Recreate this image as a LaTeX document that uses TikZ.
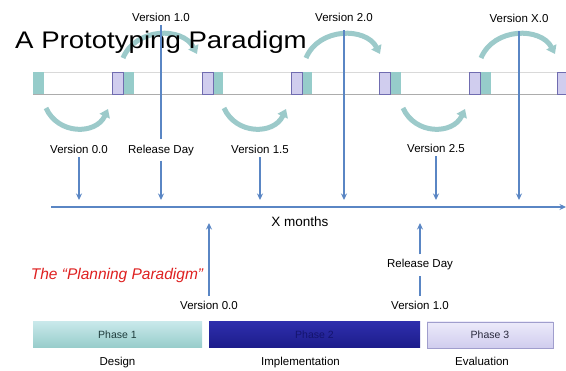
\documentclass[tikz,border=0pt]{standalone}
\usepackage{fontspec}
\usepackage{graphicx}
\setmainfont{Liberation Sans}
\usetikzlibrary{positioning}
\usetikzlibrary{arrows.meta}
\definecolor{lineblue}{RGB}{90,134,196}
\definecolor{tealA}{RGB}{200,232,234}
\definecolor{tealB}{RGB}{150,204,202}
\definecolor{lavA}{RGB}{236,234,250}
\definecolor{lavB}{RGB}{208,205,238}
\definecolor{lavedge}{RGB}{112,108,176}
\definecolor{cyc}{RGB}{156,202,202}
\definecolor{navyA}{RGB}{46,46,172}
\definecolor{navyB}{RGB}{28,28,138}
\definecolor{plred}{RGB}{222,32,32}
\tikzset{
  lbl/.style={font=\fontsize{11.5}{13}\selectfont, inner sep=1pt},
  vline/.style={draw=lineblue, line width=1.1pt},
  varrow/.style={vline, line width=1.4pt, -{Stealth[length=6.5pt,width=6pt]}},
  cycarrow/.style={draw=cyc, line width=5pt, -{Triangle[length=8pt,width=11pt]}},
  phase/.style={minimum height=26pt, inner sep=0pt, font=\fontsize{10.5}{12}\selectfont},
  tealblock/.style={fill=tealB},
  lavblock/.style={draw=lavedge, fill=lavB, line width=0.6pt}
}

\begin{document}
\begin{tikzpicture}[x=1pt, y=-1pt]
\useasboundingbox (0,0) rectangle (566,371);
\draw[draw=gray!30, fill=white] (33,72) rectangle (575,94);
\draw[draw=gray!65] (33,94) -- (575,94);
\foreach \t in {33,123,212,301,390,480}
  \fill[tealblock] (\t,72) rectangle ++(11,22);
\foreach \l in {112,202,291,379,469,557}
  \draw[lavblock] (\l,72) rectangle ++(11,22);
\foreach \c in {78,256,435}
  \draw[cycarrow] (\c-32,108) .. controls (\c-20,135) and (\c+18,135) .. (\c+30,109);
\foreach \c in {161,344,519}
  \draw[cycarrow] (\c-38,58) .. controls (\c-25,27) and (\c+22,27) .. (\c+36,54);
\node[anchor=base west, inner sep=0pt, font=\fontsize{24}{28}\selectfont] (title) at (15,49) {\scalebox{1.15}[1]{A Prototyping Paradigm}};
\node[lbl] (v10) at (161,17) {Version 1.0};
\node[lbl] (v20) at (344,17) {Version 2.0};
\node[lbl] (vx0) at (519,18) {Version X.0};
\node[lbl] (v00) at (79,149) {Version 0.0};
\node[lbl] (rd1) at (161,151) {Release Day};
\node[lbl] (v15) at (260,149) {Version 1.5};
\node[lbl] (v25) at (436,148) {Version 2.5};
\coordinate (ax0) at (51,207);
\coordinate (ax1) at (566,207);
\coordinate (a00) at (79,200);
\coordinate (a10) at (161,200);
\coordinate (a15) at (260,200);
\coordinate (a20) at (344,200);
\coordinate (a25) at (436,200);
\coordinate (ax) at (519,200);
\draw[vline, shorten <=3pt, shorten >=5pt] (v10) -- (rd1);
\draw[varrow, shorten <=3pt] (rd1) -- (a10);
\draw[varrow, shorten <=3pt] (v00) -- (a00);
\draw[varrow, shorten <=3pt] (v15) -- (a15);
\draw[varrow, shorten <=3pt] (v25) -- (a25);
\draw[varrow, line width=1.1pt, shorten <=8pt] (v20) -- (a20);
\draw[varrow, line width=1.1pt, shorten <=8pt] (vx0) -- (ax);
\draw[varrow] (ax0) -- (ax1);
\node[font=\fontsize{13.5}{15}\selectfont] (xm) at (300,222) {X months};
\node[font=\fontsize{15.5}{18}\selectfont\itshape, text=plred] (plan) at (117,275) {The “Planning Paradigm”};
\node[lbl] (u00) at (209,305) {Version 0.0};
\node[lbl] (u10) at (420,305) {Version 1.0};
\node[lbl] (rd2) at (420,265) {Release Day};
\coordinate (b00) at (209,223);
\coordinate (b10) at (420,223);
\draw[varrow, shorten <=4pt] (u00) -- (b00);
\draw[vline, line width=1.4pt, shorten <=4pt, shorten >=4pt] (u10) -- (rd2);
\draw[varrow, shorten <=4pt] (rd2) -- (b10);
\node[phase, minimum width=169pt, top color=tealA, bottom color=tealB, text={rgb,255:red,30;green,60;blue,60}] (p1) at (117.5,335) {Phase 1};
\node[phase, minimum width=211pt, top color=navyA, bottom color=navyB, text={rgb,255:red,20;green,20;blue,110}] (p2) at (314.5,335) {Phase 2};
\node[phase, minimum width=126pt, top color=lavA, bottom color=lavB, draw={rgb,255:red,160;green,158;blue,205}, text={rgb,255:red,40;green,40;blue,60}] (p3) at (490,335) {Phase 3};
\node[lbl, below=8pt of p1] (design) {Design};
\node[lbl, below=8pt of p2, xshift=-14pt] (impl) {Implementation};
\node[lbl, below=8pt of p3, xshift=-8pt] (eval) {Evaluation};
\end{tikzpicture}
\end{document}
